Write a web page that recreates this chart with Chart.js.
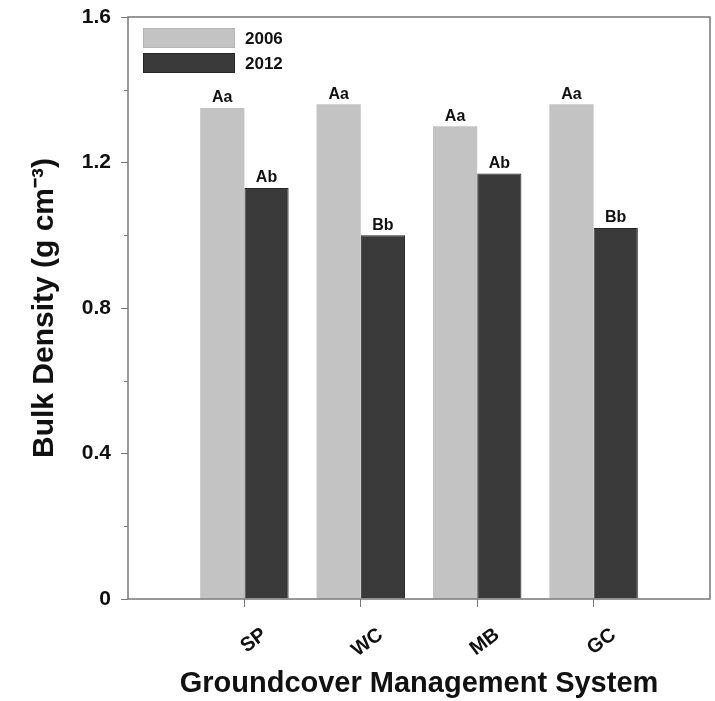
<!DOCTYPE html>
<html>
<head>
<meta charset="utf-8">
<style>
  html, body { margin: 0; padding: 0; background: #fff; }
  #wrap { width: 715px; height: 701px; }
</style>
<script src="https://cdn.jsdelivr.net/npm/chart.js@4.4.1/dist/chart.umd.min.js"></script>
</head>
<body>
<div id="wrap"><canvas id="bulkChart"></canvas></div>
<script>
// Data
const systems = ["SP", "WC", "MB", "GC"];
const density2006 = [1.35, 1.36, 1.30, 1.36];
const density2012 = [1.13, 1.00, 1.17, 1.02];
const letters2006 = ["Aa", "Aa", "Aa", "Aa"];
const letters2012 = ["Ab", "Bb", "Ab", "Bb"];
const yTicks = [0, 0.4, 0.8, 1.2, 1.6];

const FONT = "'Liberation Sans', Arial, sans-serif";
const AXIS = "#777";

// empty slot at each end so the groups sit like in the original
const pad = arr => [null, ...arr, null];
const labels = ["", ...systems, ""];

// letters above bars, legend box and frame
const extras = {
  id: "extras",
  afterDatasetsDraw(chart) {
    const ctx = chart.ctx;
    const lettersBySet = [pad(letters2006), pad(letters2012)];
    ctx.save();
    ctx.font = "bold 16px " + FONT;
    ctx.fillStyle = "#111";
    ctx.textAlign = "center";
    ctx.textBaseline = "bottom";
    chart.data.datasets.forEach((ds, di) => {
      chart.getDatasetMeta(di).data.forEach((bar, i) => {
        const t = lettersBySet[di][i];
        if (t) ctx.fillText(t, bar.x, bar.y - 2);
      });
    });
    ctx.restore();
  },
  afterDraw(chart) {
    const ctx = chart.ctx;
    const a = chart.chartArea;
    const y = chart.scales.y;
    ctx.save();
    // frame
    ctx.strokeStyle = AXIS;
    ctx.lineWidth = 1.5;
    ctx.strokeRect(a.left, a.top, a.right - a.left, a.bottom - a.top);
    // minor ticks
    ctx.lineWidth = 1;
    y.ticks.forEach(t => {
      if (!yTicks.some(v => Math.abs(v - t.value) < 1e-6)) {
        const py = Math.round(y.getPixelForValue(t.value)) + 0.5;
        ctx.beginPath();
        ctx.moveTo(a.left - 4, py);
        ctx.lineTo(a.left, py);
        ctx.stroke();
      }
    });
    // legend inside the plot
    const boxX = a.left + 15, boxW = 92, boxH = 20;
    let by = a.top + 11;
    ctx.font = "bold 17px " + FONT;
    ctx.textBaseline = "middle";
    ctx.textAlign = "left";
    chart.data.datasets.forEach(ds => {
      ctx.fillStyle = ds.backgroundColor;
      ctx.fillRect(boxX, by, boxW, boxH);
      ctx.strokeStyle = ds.borderColor;
      ctx.strokeRect(boxX + 0.5, by + 0.5, boxW - 1, boxH - 1);
      ctx.fillStyle = "#111";
      ctx.fillText(ds.label, boxX + boxW + 10, by + boxH / 2 + 1);
      by += boxH + 5;
    });
    ctx.restore();
  }
};

const config = {
  type: "bar",
  data: {
    labels: labels,
    datasets: [
      {
        label: "2006",
        data: pad(density2006),
        backgroundColor: "#c3c3c3",
        borderColor: "#b5b5b5",
        borderWidth: 0
      },
      {
        label: "2012",
        data: pad(density2012),
        backgroundColor: "#3a3a3a",
        borderColor: "#262626",
        borderWidth: 1
      }
    ]
  },
  options: {
    responsive: true,
    maintainAspectRatio: false,
    animation: false,
    layout: { padding: { top: 17, right: 5, left: 0, bottom: 0 } },
    datasets: { bar: { categoryPercentage: 0.76, barPercentage: 1.0 } },
    plugins: {
      legend: { display: false },
      tooltip: { enabled: false }
    },
    scales: {
      x: {
        offset: false,
        afterFit: s => { s.height = 102; s.paddingLeft = 0; s.paddingRight = 0; },
        border: { display: false },
        grid: {
          offset: false,
          drawOnChartArea: false,
          tickLength: 8,
          tickColor: c => (c.index > 0 && c.index < labels.length - 1) ? AXIS : "rgba(0,0,0,0)"
        },
        ticks: {
          autoSkip: false,
          minRotation: 37,
          maxRotation: 37,
          labelOffset: 20,
          padding: 16,
          color: "#111",
          font: { family: FONT, size: 20, weight: "bold" }
        },
        title: {
          display: true,
          text: "Groundcover Management System",
          color: "#111",
          font: { family: FONT, size: 29, weight: "bold" },
          padding: { top: 0, bottom: 0 }
        }
      },
      y: {
        min: 0,
        max: 1.6,
        afterFit: s => { s.width = 128; s.paddingTop = 0; s.paddingBottom = 0; },
        border: { display: false },
        grid: {
          drawOnChartArea: false,
          tickLength: 7,
          tickColor: c => yTicks.some(v => Math.abs(v - c.tick.value) < 1e-6) ? AXIS : "rgba(0,0,0,0)"
        },
        ticks: {
          stepSize: 0.2,
          padding: 10,
          color: "#111",
          font: { family: FONT, size: 21, weight: "bold" },
          callback: v => yTicks.some(t => Math.abs(t - v) < 1e-6) ? String(Math.round(v * 10) / 10) : ""
        },
        title: {
          display: true,
          text: "Bulk Density (g cm\u207B\u00B3)",
          color: "#111",
          font: { family: FONT, size: 30, weight: "bold" },
          padding: { top: 27, bottom: 0 }
        }
      }
    }
  },
  plugins: [extras]
};

const bulkChart = new Chart(document.getElementById("bulkChart"), config);
</script>
</body>
</html>
